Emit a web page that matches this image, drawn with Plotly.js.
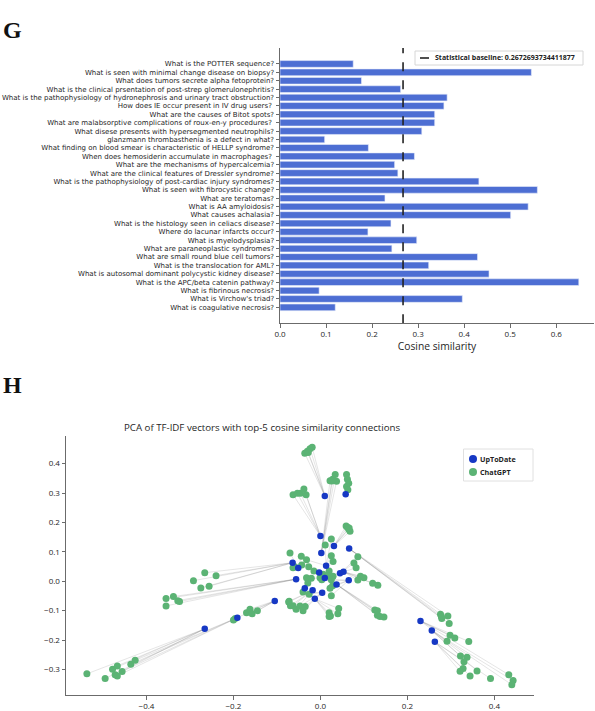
<!DOCTYPE html>
<html>
<head>
<meta charset="utf-8">
<script src="https://cdn.plot.ly/plotly-3.0.1.min.js"></script>
<style>
  html, body { margin: 0; padding: 0; background: #ffffff; }
  #chart { width: 595px; height: 711px; }
</style>
</head>
<body>
<div id="chart"></div>
<script>
// ---- Panel G: cosine similarity per question ----
const questions = [
  "What is the POTTER sequence?",
  "What is seen with minimal change disease on biopsy?",
  "What does tumors secrete alpha fetoprotein?",
  "What is the clinical prsentation of post-strep glomerulonephritis?",
  "What is the pathophysiology of hydronephrosis and urinary tract obstruction?",
  "How does IE occur present in IV drug users?\u00a0",
  "What are the causes of Bitot spots?",
  "What are malabsorptive complications of roux-en-y procedures?\u00a0",
  "What disese presents with hypersegmented neutrophils?",
  "glanzmann thrombasthenia is a defect in what?",
  "What finding on blood smear is characteristic of HELLP syndrome?",
  "When does hemosiderin accumulate in macrophages?\u00a0",
  "What are the mechanisms of hypercalcemia?",
  "What are the clinical features of Dressler syndrome?",
  "What is the pathophysiology of post-cardiac injury syndromes?",
  "What is seen with fibrocystic change?",
  "What are teratomas?",
  "What is AA amyloidosis?",
  "What causes achalasia?",
  "What is the histology seen in celiacs disease?",
  "Where do lacunar infarcts occur?",
  "What is myelodysplasia?",
  "What are paraneoplastic syndromes?",
  "What are small round blue cell tumors?",
  "What is the translocation for AML?",
  "What is autosomal dominant polycystic kidney disease?",
  "What is the APC/beta catenin pathway?",
  "What is fibrinous necrosis?",
  "What is Virchow's triad?",
  "What is coagulative necrosis?"
];

const cosineSimilarity = [
  0.159, 0.546, 0.177, 0.262, 0.363, 0.356, 0.336, 0.336, 0.308, 0.097,
  0.192, 0.292, 0.249, 0.256, 0.432, 0.559, 0.228, 0.539, 0.501, 0.241,
  0.191, 0.297, 0.243, 0.429, 0.323, 0.454, 0.649, 0.085, 0.396, 0.120
];

const baseline = 0.2672693734411877;
const baselineLabel = "Statistical baseline: " + baseline;

// ---- Panel H: PCA coordinates of TF-IDF vectors ----
const upToDateX = [
  0.010, 0.058, 0.000, 0.031, 0.066, 0.002, -0.064, -0.051, 0.013, -0.003,
  0.045, 0.053, -0.056, 0.065, 0.037, -0.036, -0.018, 0.004, -0.013, -0.105,
  -0.191, -0.266, 0.230, 0.256, 0.263, 0.010
];
const upToDateY = [
  0.290, 0.296, 0.154, 0.120, 0.111, 0.096, 0.063, 0.045, 0.053, 0.030,
  0.027, 0.032, 0.007, 0.003, -0.011, -0.024, -0.031, -0.039, -0.060, -0.067,
  -0.124, -0.162, -0.135, -0.168, -0.206, 0.011
];

const chatGptX = [
  -0.036, -0.030, -0.024, -0.019, -0.028,
  0.060, 0.062, 0.065, 0.060, 0.063,
  -0.063, -0.053, -0.046, -0.038, -0.033,
  0.059, 0.065, 0.068, 0.062, 0.066,
  0.276, 0.279, 0.293, 0.296, 0.278,
  0.022, 0.034, 0.037, 0.028, 0.026,
  -0.292, -0.266, -0.240, -0.275, -0.256,
  -0.059, -0.043, -0.044, -0.070, -0.063,
  0.025, 0.029, -0.032, 0.011, 0.025,
  -0.015, 0.006, -0.027, 0.020, -0.001,
  0.086, 0.077, 0.082, 0.029, 0.019,
  0.092, 0.100, 0.086, 0.120, 0.132,
  -0.355, -0.338, -0.328, -0.324, -0.355,
  0.025, 0.028, 0.003, 0.022, 0.025,
  0.125, 0.131, 0.131, 0.137, 0.146,
  -0.032, -0.021, -0.029, -0.040, -0.026,
  -0.073, -0.063, -0.069, -0.072, -0.056,
  -0.047, -0.040, -0.035,
  0.020, 0.023, 0.042, 0.040, 0.020,
  -0.170, -0.162, -0.157, -0.145, -0.196,
  -0.200,
  -0.537, -0.495, -0.478, -0.467, -0.472, -0.467, -0.456, -0.436, -0.426,
  0.298, 0.309, 0.291, 0.341, 0.433,
  0.322, 0.337, 0.443, 0.440, 0.360,
  0.330, 0.328, 0.321, 0.344, 0.391
];
const chatGptY = [
  0.435, 0.442, 0.451, 0.456, 0.438,
  0.363, 0.347, 0.333, 0.322, 0.311,
  0.294, 0.299, 0.299, 0.314, 0.294,
  0.188, 0.177, 0.170, 0.184, 0.181,
  -0.112, -0.127, -0.118, -0.144, -0.120,
  0.342, 0.363, 0.340, 0.347, 0.341,
  0.002, 0.029, 0.019, -0.023, -0.017,
  0.049, 0.055, 0.085, 0.096, 0.046,
  0.087, 0.067, 0.073, 0.123, 0.144,
  0.035, 0.024, 0.049, 0.035, 0.012,
  0.083, 0.062, 0.046, 0.017, 0.019,
  0.017, 0.012, 0.004, -0.007, -0.014,
  -0.059, -0.052, -0.066, -0.069, -0.084,
  0.005, -0.015, 0.005, -0.024, -0.049,
  -0.098, -0.100, -0.116, -0.120, -0.122,
  0.012, 0.010, -0.006, -0.037, -0.044,
  -0.071, -0.083, -0.083, -0.068, -0.095,
  -0.084, -0.100, -0.086,
  -0.107, -0.118, -0.093, -0.111, -0.120,
  -0.107, -0.095, -0.111, -0.100, -0.127,
  -0.132,
  -0.315, -0.331, -0.299, -0.288, -0.318, -0.322, -0.307, -0.282, -0.269,
  -0.184, -0.193, -0.204, -0.205, -0.318,
  -0.254, -0.259, -0.338, -0.352, -0.305,
  -0.274, -0.297, -0.306, -0.322, -0.331
];

// indices into the ChatGPT arrays of the five most similar answers per UpToDate text
const topMatches = [
  [0, 1, 2, 3, 4], [5, 6, 7, 8, 9], [10, 11, 12, 13, 14], [15, 16, 17, 18, 19],
  [20, 21, 22, 23, 24], [25, 26, 27, 28, 29], [30, 31, 32, 33, 34], [35, 36, 37, 38, 39],
  [40, 41, 42, 43, 44], [45, 46, 47, 48, 49], [50, 51, 52, 53, 54], [55, 56, 57, 58, 59],
  [60, 61, 62, 63, 64], [65, 66, 67, 68, 69], [70, 71, 72, 73, 74], [75, 76, 77, 78, 79],
  [80, 81, 82, 83, 84], [85, 86, 87, 78, 79], [88, 89, 90, 91, 92], [93, 94, 95, 96, 97],
  [98, 104, 105, 106, 107], [99, 100, 101, 102, 103], [108, 109, 110, 111, 112],
  [113, 114, 115, 116, 117], [118, 119, 120, 121, 122], [45, 46, 66, 67, 76]
];

const seriesNames = ["UpToDate", "ChatGPT"];
const seriesColors = ["#1638c4", "#5bb374"];

// ---- page geometry (pixels -> paper fractions) ----
const W = 595, H = 711;
const px = v => v / W;
const py = v => (H - v) / H;

const linkX = [], linkY = [];
topMatches.forEach((list, i) => {
  list.forEach(j => {
    linkX.push(upToDateX[i], chatGptX[j], null);
    linkY.push(upToDateY[i], chatGptY[j], null);
  });
});

const FONT = "Open Sans";
const numFont = { family: FONT, size: 8, color: "#262626" };
const catFont = { family: "DejaVu Sans", size: 7.0, color: "#262626" };
const axisColor = "#6b6b6b";

const traces = [
  {
    type: "bar", orientation: "h",
    x: cosineSimilarity, y: questions,
    xaxis: "x", yaxis: "y",
    width: 0.8,
    marker: { color: "#4d6ed3", line: { color: "#e8ecfa", width: 0.6 } },
    showlegend: false, hoverinfo: "x+y"
  },
  {
    type: "scatter", mode: "lines",
    x: [baseline, baseline], y: [0, 1],
    xaxis: "x", yaxis: "y3",
    line: { color: "#222222", width: 1.6, dash: "dash" },
    name: baselineLabel, showlegend: false
  },
  {
    type: "scatter", mode: "lines",
    x: linkX, y: linkY, xaxis: "x2", yaxis: "y2",
    line: { color: "rgba(120,120,120,0.28)", width: 0.7 },
    hoverinfo: "skip", showlegend: false
  },
  {
    type: "scatter", mode: "markers",
    x: chatGptX, y: chatGptY, xaxis: "x2", yaxis: "y2",
    marker: { color: seriesColors[1], size: 7 },
    name: seriesNames[1], showlegend: false
  },
  {
    type: "scatter", mode: "markers",
    x: upToDateX, y: upToDateY, xaxis: "x2", yaxis: "y2",
    marker: { color: seriesColors[0], size: 6.5 },
    name: seriesNames[0], showlegend: false
  }
];

// legend boxes, drawn as paper-space shapes with text beside their keys
const legendShapes = [
  { type: "rect", xref: "paper", yref: "paper", x0: px(415), x1: px(583), y0: py(65), y1: py(51),
    line: { color: "#d6d6d6", width: 1 }, fillcolor: "#ffffff", layer: "above" },
  { type: "line", xref: "paper", yref: "paper", x0: px(420), x1: px(432), y0: py(58), y1: py(58),
    line: { color: "#222222", width: 1.6, dash: "dash" }, layer: "above" },
  { type: "rect", xref: "paper", yref: "paper", x0: px(463.5), x1: px(533), y0: py(481), y1: py(449),
    line: { color: "#e0e0e0", width: 1 }, fillcolor: "#ffffff", layer: "above" }
];
seriesNames.forEach((name, k) => {
  const cy = 459 + 13 * k;
  legendShapes.push({ type: "circle", xref: "paper", yref: "paper",
    x0: px(469), x1: px(477), y0: py(cy + 4), y1: py(cy - 4),
    line: { width: 0 }, fillcolor: seriesColors[k], layer: "above" });
});

const legendText = [
  { text: "<b>" + baselineLabel + "</b>", xref: "paper", yref: "paper", x: px(433), y: py(58),
    xanchor: "left", yanchor: "middle", showarrow: false,
    font: { family: FONT, size: 7, color: "#222222" } }
];
seriesNames.forEach((name, k) => {
  legendText.push({ text: "<b>" + name + "</b>", xref: "paper", yref: "paper",
    x: px(478), y: py(459 + 13 * k), xanchor: "left", yanchor: "middle", showarrow: false,
    font: { family: FONT, size: 7.2, color: "#222222" } });
});

const layout = {
  width: W, height: H,
  margin: { l: 0, r: 0, t: 0, b: 0 },
  paper_bgcolor: "#ffffff", plot_bgcolor: "#ffffff",
  font: { family: FONT, color: "#262626" },
  showlegend: false,
  xaxis: {
    domain: [px(280), px(594)], anchor: "y",
    range: [0, 0.682], tickvals: [0, 0.1, 0.2, 0.3, 0.4, 0.5, 0.6], tickformat: ".1f",
    showgrid: false, zeroline: false,
    showline: true, linecolor: axisColor, linewidth: 1,
    ticks: "outside", ticklen: 3.5, tickcolor: axisColor, tickfont: numFont,
    title: { text: "Cosine similarity", font: { family: FONT, size: 10.3, color: "#262626" }, standoff: 3 }
  },
  yaxis: {
    domain: [py(323.3), py(48)], anchor: "x",
    type: "category", categoryorder: "array", categoryarray: questions,
    tickmode: "linear", tick0: 0, dtick: 1,
    range: [30.9, -1.9], autorange: false,
    showgrid: false, zeroline: false,
    showline: true, linecolor: axisColor, linewidth: 1,
    ticks: "outside", ticklen: 3.5, tickcolor: axisColor, tickfont: catFont
  },
  yaxis3: {
    overlaying: "y", anchor: "x", range: [0, 1], visible: false, fixedrange: true
  },
  xaxis2: {
    domain: [px(66), px(534)], anchor: "y2",
    range: [-0.585, 0.491], tickvals: [-0.4, -0.2, 0, 0.2, 0.4], tickformat: ".1f",
    showgrid: false, zeroline: false,
    showline: true, linecolor: axisColor, linewidth: 1,
    ticks: "outside", ticklen: 3.5, tickcolor: axisColor, tickfont: numFont
  },
  yaxis2: {
    domain: [py(695), py(436)], anchor: "x2",
    range: [-0.387, 0.494], tickvals: [-0.3, -0.2, -0.1, 0, 0.1, 0.2, 0.3, 0.4], tickformat: ".1f",
    showgrid: false, zeroline: false,
    showline: true, linecolor: axisColor, linewidth: 1,
    ticks: "outside", ticklen: 3.5, tickcolor: axisColor, tickfont: numFont
  },
  shapes: legendShapes,
  annotations: [
    { text: "<b>G</b>", xref: "paper", yref: "paper", x: px(1), y: py(29.5),
      xanchor: "left", yanchor: "middle", showarrow: false,
      font: { family: "Liberation Serif", size: 24, color: "#111111" } },
    { text: "<b>H</b>", xref: "paper", yref: "paper", x: px(1), y: py(385.5),
      xanchor: "left", yanchor: "middle", showarrow: false,
      font: { family: "Liberation Serif", size: 24, color: "#111111" } },
    { text: "PCA of TF-IDF vectors with top-5 cosine similarity connections",
      xref: "paper", yref: "paper", x: px(261.5), y: py(427), xanchor: "center", yanchor: "middle",
      showarrow: false, font: { family: FONT, size: 9.7, color: "#262626" } }
  ].concat(legendText)
};

Plotly.newPlot("chart", traces, layout, { staticPlot: true, displayModeBar: false });
</script>
</body>
</html>
